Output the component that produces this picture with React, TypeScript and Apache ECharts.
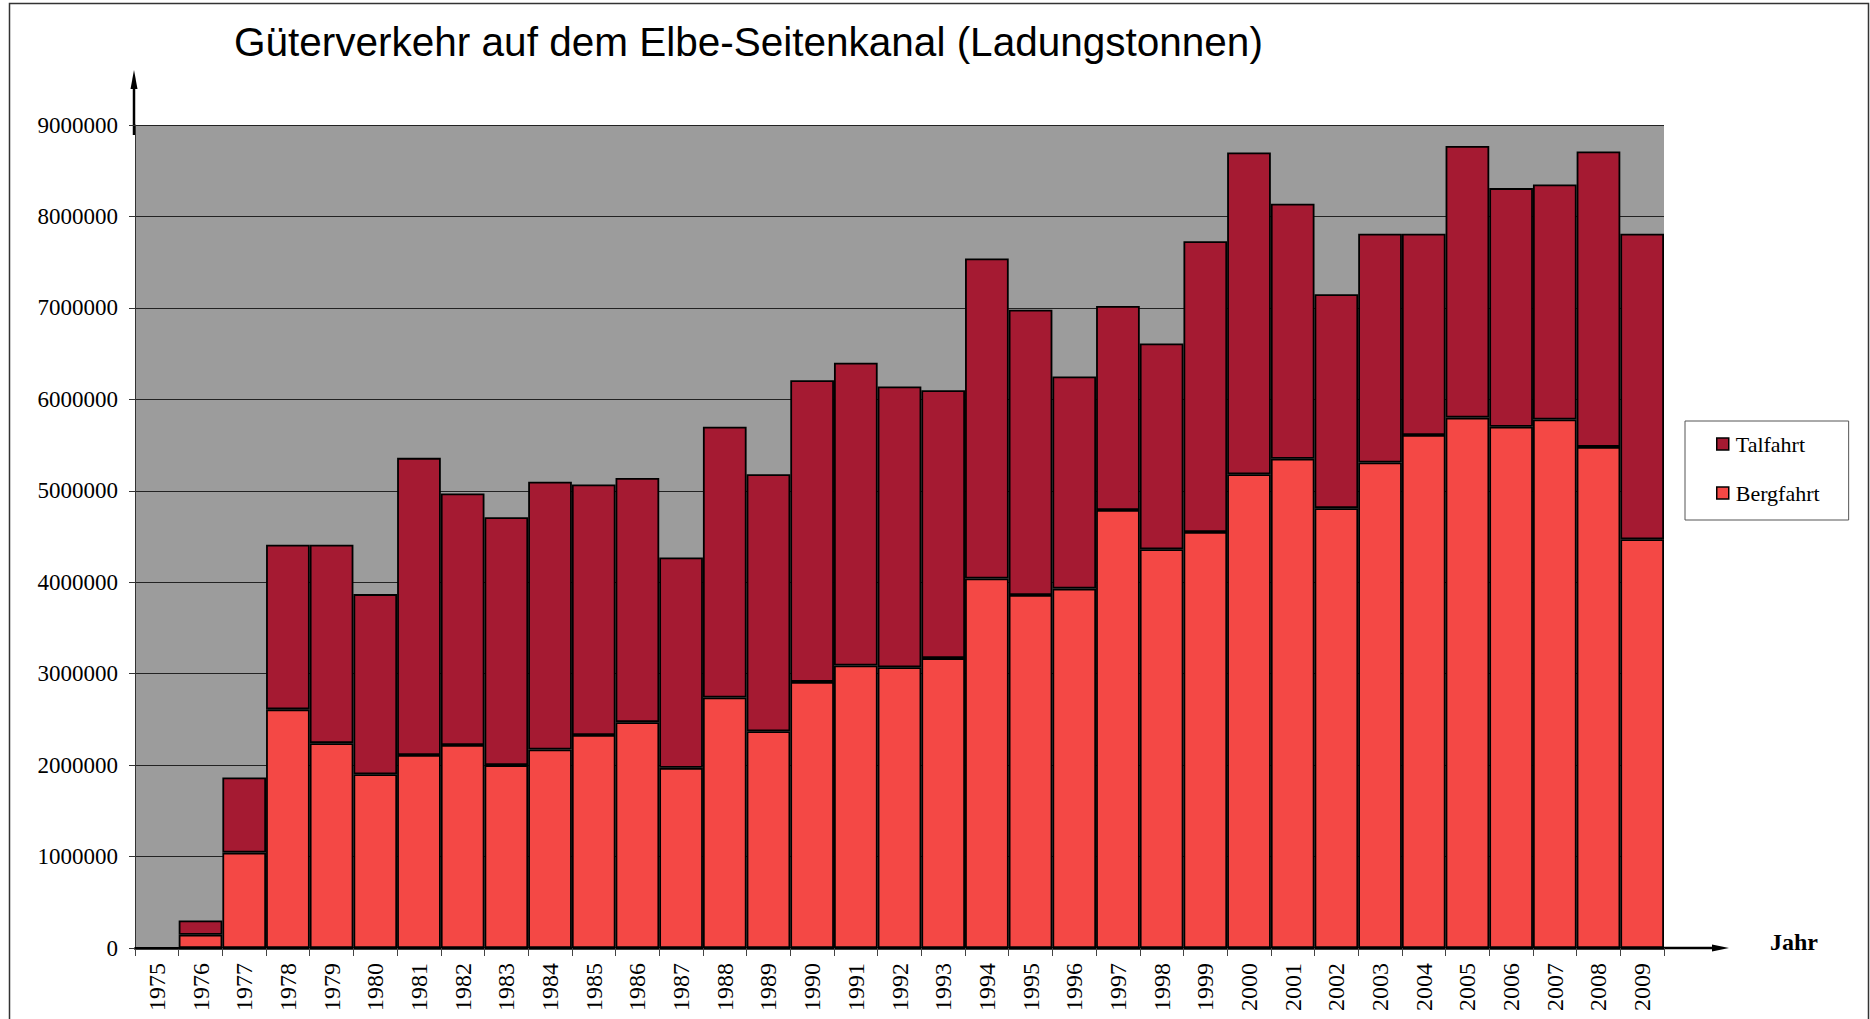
import React, { useEffect, useRef } from "react";
import * as echarts from "echarts";

const years = [
  "1975", "1976", "1977", "1978", "1979", "1980", "1981", "1982", "1983", "1984",
  "1985", "1986", "1987", "1988", "1989", "1990", "1991", "1992", "1993", "1994",
  "1995", "1996", "1997", "1998", "1999", "2000", "2001", "2002", "2003", "2004",
  "2005", "2006", "2007", "2008", "2009",
];

// Bergfahrt (upstream) tonnage
const bergfahrt = [
  0, 145000, 1043000, 2610000, 2240000, 1900000, 2110000, 2220000, 2000000, 2170000,
  2330000, 2470000, 1970000, 2740000, 2370000, 2910000, 3090000, 3070000, 3170000, 4040000,
  3860000, 3930000, 4790000, 4360000, 4550000, 5180000, 5350000, 4810000, 5310000, 5610000,
  5800000, 5700000, 5780000, 5480000, 4470000,
];

// Total tonnage (Bergfahrt + Talfahrt)
const totals = [
  0, 300000, 1865000, 4410000, 4410000, 3870000, 5360000, 4970000, 4710000, 5100000,
  5070000, 5140000, 4270000, 5700000, 5180000, 6210000, 6400000, 6140000, 6100000, 7540000,
  6980000, 6250000, 7020000, 6610000, 7730000, 8700000, 8140000, 7150000, 7810000, 7810000,
  8770000, 8310000, 8350000, 8710000, 7810000,
];

const talfahrt = totals.map((t, i) => t - bergfahrt[i]);

const yTicks = [0, 1000000, 2000000, 3000000, 4000000, 5000000, 6000000, 7000000, 8000000, 9000000];

const SERIF = "'Liberation Serif', 'DejaVu Serif', serif";
const SANS = "'Liberation Sans', Arial, sans-serif";

export default function App() {
  const ref = useRef<HTMLDivElement>(null);

  useEffect(() => {
    if (!ref.current) return;
    const chart = echarts.init(ref.current, null, { renderer: "svg" });
    chart.setOption({
      animation: false,
      backgroundColor: "#ffffff",
      title: {
        text: "Güterverkehr auf dem Elbe-Seitenkanal (Ladungstonnen)",
        left: 229,
        top: 16,
        textStyle: { fontFamily: SANS, fontSize: 40.5, fontWeight: "normal", color: "#000" },
      },
      legend: {
        orient: "vertical",
        left: 1685,
        top: 421,
        data: ["Talfahrt", "Bergfahrt"],
        icon: "rect",
        itemWidth: 12,
        itemHeight: 12,
        itemGap: 27,
        padding: [12, 29, 16, 31],
        borderColor: "#555",
        borderWidth: 1,
        backgroundColor: "#fff",
        textStyle: { fontFamily: SERIF, fontSize: 22, color: "#000", padding: [0, 0, 0, 2] },
        itemStyle: { borderColor: "#000", borderWidth: 1.5 },
      },
      grid: {
        left: 135,
        top: 125,
        right: 206,
        bottom: 71,
        show: true,
        backgroundColor: "#9c9c9c",
        borderWidth: 0,
        containLabel: false,
      },
      xAxis: {
        type: "category",
        data: years,
        boundaryGap: true,
        axisLine: { show: true, lineStyle: { color: "#000", width: 2.5 } },
        axisTick: { show: true, alignWithLabel: false, length: 8, lineStyle: { color: "#444", width: 1 } },
        axisLabel: {
          rotate: 90,
          interval: 0,
          margin: 15,
          fontFamily: SERIF,
          fontSize: 24,
          color: "#000",
        },
        splitLine: { show: false },
      },
      yAxis: {
        type: "value",
        min: yTicks[0],
        max: yTicks[yTicks.length - 1],
        interval: 1000000,
        axisLine: { show: true, lineStyle: { color: "#333", width: 1 } },
        axisTick: { show: true, length: 6, inside: false, lineStyle: { color: "#333", width: 1 } },
        axisLabel: {
          margin: 17,
          fontFamily: SERIF,
          fontSize: 23,
          color: "#000",
          formatter: (v: number) => String(v),
        },
        splitLine: { show: true, lineStyle: { color: "#222", width: 1 } },
      },
      series: [
        {
          name: "Bergfahrt",
          type: "bar",
          stack: "total",
          data: bergfahrt,
          barCategoryGap: "0%",
          itemStyle: { color: "#f44845", borderColor: "#000", borderWidth: 1.8 },
        },
        {
          name: "Talfahrt",
          type: "bar",
          stack: "total",
          data: talfahrt,
          barCategoryGap: "0%",
          itemStyle: { color: "#a51a32", borderColor: "#000", borderWidth: 1.8 },
        },
      ],
      graphic: [
        {
          type: "rect",
          shape: { x: 9.5, y: 3.5, width: 1859, height: 1040 },
          style: { fill: "none", stroke: "#333", lineWidth: 1.5 },
          silent: true,
          z: -1,
        },
        {
          type: "line",
          shape: { x1: 134, y1: 135, x2: 134, y2: 86 },
          style: { stroke: "#000", lineWidth: 2.5 },
          silent: true,
        },
        {
          type: "polygon",
          shape: { points: [[134, 70], [130.5, 89], [137.5, 89]] },
          style: { fill: "#000" },
          silent: true,
        },
        {
          type: "line",
          shape: { x1: 1664, y1: 948, x2: 1715, y2: 948 },
          style: { stroke: "#000", lineWidth: 2.5 },
          silent: true,
        },
        {
          type: "polygon",
          shape: { points: [[1729, 948], [1712, 944.5], [1712, 951.5]] },
          style: { fill: "#000" },
          silent: true,
        },
        {
          type: "text",
          x: 1770,
          y: 942,
          style: {
            text: "Jahr",
            fontFamily: SERIF,
            fontSize: 24,
            fontWeight: "bold",
            fill: "#000",
            verticalAlign: "middle",
          },
          silent: true,
        },
      ],
    });
    return () => chart.dispose();
  }, []);

  return (
    <div
      ref={ref}
      style={{ position: "fixed", left: 0, top: 0, width: 1870, height: 1019 }}
    />
  );
}
